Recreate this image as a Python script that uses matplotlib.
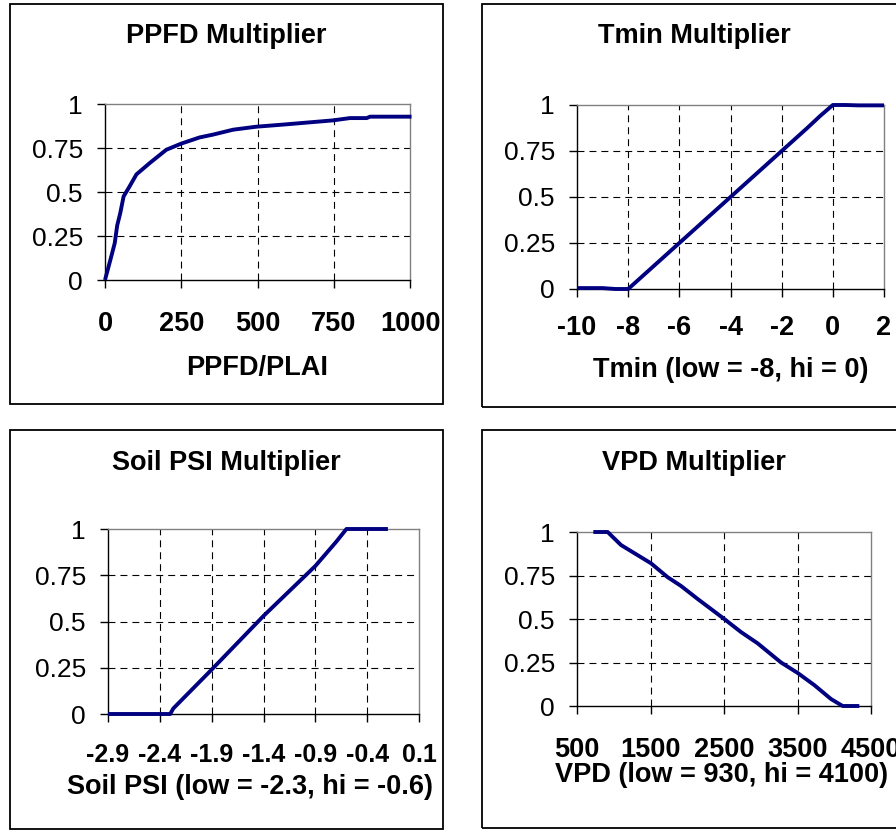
import matplotlib
matplotlib.use("Agg")
import matplotlib.pyplot as plt
from matplotlib.patches import Rectangle

plt.rcParams['font.family'] = ['Liberation Sans', 'DejaVu Sans']

# ---------------- data ----------------
ppfd_x = [0, 20, 32, 40, 50, 61, 80, 103, 147, 201, 250, 310, 354, 420, 496, 584, 748, 803, 858, 869, 1005]
ppfd_y = [0, 0.13, 0.21, 0.31, 0.38, 0.475, 0.53, 0.60, 0.665, 0.74, 0.775, 0.81, 0.826, 0.854, 0.871, 0.883, 0.907, 0.92, 0.92, 0.928, 0.928]

tmin_x = [-10, -9, -8.5, -8, -7, -6, -5, -4, -3, -2, -1, -0.5, 0, 0.5, 1, 2]
tmin_y = [0.005, 0.005, 0, 0, 0.125, 0.25, 0.375, 0.5, 0.625, 0.75, 0.875, 0.94, 1, 1, 0.998, 0.998]

psi_x = [-2.9, -2.4, -2.3, -2.27, -1.9, -1.4, -0.9, -0.7, -0.6, -0.2]
psi_y = [0, 0, 0, 0.03, 0.24, 0.53, 0.80, 0.93, 1, 1]

vpd_x = [722, 917, 1099, 1507, 1734, 1915, 2142, 2504, 2731, 2958, 3276, 3502, 3729, 3956, 4114, 4341]
vpd_y = [1, 1, 0.925, 0.82, 0.74, 0.69, 0.615, 0.5, 0.425, 0.36, 0.25, 0.19, 0.12, 0.04, 0, 0]

titles = ["PPFD Multiplier", "Tmin Multiplier", "Soil PSI Multiplier", "VPD Multiplier"]
xlabels = ["PPFD/PLAI", "Tmin (low = -8, hi = 0)", "Soil PSI (low = -2.3, hi = -0.6)",
           "VPD (low = 930, hi = 4100)"]
yticks = [0, 0.25, 0.5, 0.75, 1]
yticklabels = ["0", "0.25", "0.5", "0.75", "1"]
ppfd_ticks = [0, 250, 500, 750, 1000]
tmin_ticks = [-10, -8, -6, -4, -2, 0, 2]
psi_ticks = [-2.9, -2.4, -1.9, -1.4, -0.9, -0.4, 0.1]
psi_ticklabels = ["-2.9", "-2.4", "-1.9", "-1.4", "-0.9", "-0.4", "0.1"]
vpd_ticks = [500, 1500, 2500, 3500, 4500]
vpd_grid = [1500, 2500, 3500]

# ---------------- layout ----------------
W, H = 896, 830
fig = plt.figure(figsize=(W / 100, H / 100), dpi=100)

def frac_rect(l, t, r, b):
    return [l / W, 1 - b / H, (r - l) / W, (b - t) / H]

panels = [
    dict(ax=(105, 104, 410, 280), box=(10, 4, 443, 404), ty=36, tx=226, xl=(257, 368), pad=16, xfs=19.5),
    dict(ax=(577, 105, 884, 289), box=(482, 4, 906, 407), ty=36, tx=694, xl=(731, 370), pad=13, xfs=19.5),
    dict(ax=(108, 529, 419, 714), box=(10, 430, 443, 829), ty=463, tx=226, xl=(250, 787), pad=15, xfs=18),
    dict(ax=(577, 532, 871, 706), box=(482, 430, 906, 828), ty=463, tx=694, xl=(722, 775), pad=16, xfs=19.5),
]

data = [(ppfd_x, ppfd_y), (tmin_x, tmin_y), (psi_x, psi_y), (vpd_x, vpd_y)]
xlims = [(0, 1000), (-10, 2), (-2.9, 0.1), (500, 4500)]
xtick_sets = [ppfd_ticks, tmin_ticks, psi_ticks, vpd_ticks]

FS = 19.5

for i, p in enumerate(panels):
    l, t, r, b = p['box']
    fig.patches.append(Rectangle((l / W, 1 - b / H), (r - l) / W, (b - t) / H,
                                 transform=fig.transFigure, fill=False,
                                 edgecolor='black', linewidth=1.3))
    ax = fig.add_axes(frac_rect(*p['ax']))
    x, y = data[i]
    ax.plot(x, y, color='#000080', linewidth=2.8, solid_capstyle='butt',
            solid_joinstyle='round', zorder=3, clip_on=False)
    ax.set_xlim(*xlims[i])
    ax.set_ylim(0, 1)
    ax.set_yticks(yticks)
    ax.set_yticklabels(yticklabels, fontsize=19)
    ax.set_xticks(xtick_sets[i])
    if i == 2:
        ax.set_xticklabels(psi_ticklabels)
    else:
        ax.set_xticklabels([str(v) for v in xtick_sets[i]])
    for lab in ax.get_xticklabels():
        lab.set_fontweight('bold')
        lab.set_fontsize(p['xfs'])
    ax.tick_params(axis='y', direction='out', length=6, width=1, color='black', pad=10)
    ax.tick_params(axis='x', direction='out', length=6, width=1, color='black', pad=p['pad'])
    ax.spines['left'].set_color('black')
    ax.spines['bottom'].set_color('black')
    ax.spines['top'].set_color('#808080')
    ax.spines['right'].set_color('#808080')
    for s in ax.spines.values():
        s.set_linewidth(1)
    gx = vpd_grid if i == 3 else xtick_sets[i][1:-1]
    for gv in gx:
        ax.axvline(gv, color='black', linewidth=0.8, linestyle=(0, (6.25, 4.5)), zorder=1)
    for gv in yticks[1:-1]:
        ax.axhline(gv, color='black', linewidth=0.8, linestyle=(0, (6.25, 4.5)), zorder=1)
    ax.set_xlabel(xlabels[i], fontsize=FS, fontweight='bold')
    ax.xaxis.label.set_va('center')
    ax.xaxis.set_label_coords(p['xl'][0] / W, 1 - p['xl'][1] / H, transform=fig.transFigure)
    fig.text(p['tx'] / W, 1 - p['ty'] / H, titles[i], fontsize=FS, fontweight='bold',
             ha='center', va='center')

fig.savefig("out.png", dpi=100)
